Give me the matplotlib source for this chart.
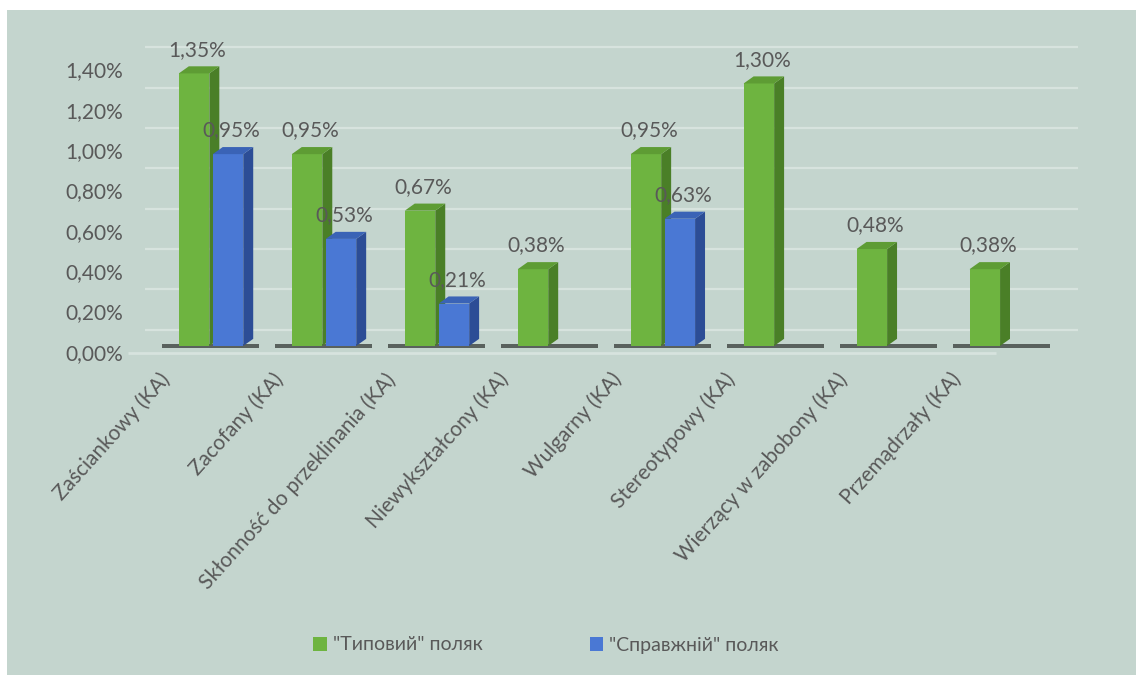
import matplotlib
matplotlib.use('Agg')
import matplotlib.pyplot as plt
from matplotlib.patches import Polygon, Rectangle, Patch
from matplotlib.transforms import ScaledTranslation
import numpy as np

plt.rcParams['font.family'] = ['Lato', 'DejaVu Sans']

# data (percent)
Categories = ['Zaściankowy (KA)', 'Zacofany (KA)', 'Skłonność do przeklinania (KA)',
              'Niewykształcony (KA)', 'Wulgarny (KA)', 'Stereotypowy (KA)',
              'Wierzący w zabobony (KA)', 'Przemądrzały (KA)']
Typowy = [1.35, 0.95, 0.67, 0.38, 0.95, 1.30, 0.48, 0.38]
Prawdziwy = [0.95, 0.53, 0.21, 0, 0.63, 0, 0, 0]
SeriesNames = ['"Типовий" поляк', '"Справжній" поляк']
YTicks = [0.0, 0.2, 0.4, 0.6, 0.8, 1.0, 1.2, 1.4]

TextCol = '#595959'
PanelCol = '#c4d5ce'
GridCol = '#d7e3de'
Green = ('#6eb440', '#4a7f27', '#5e9c34')   # front, side, top
Blue = ('#4a78d4', '#2c4d96', '#3a63b6')

fig = plt.figure(figsize=(11.36, 6.77), dpi=100)
fig.patch.set_facecolor('white')
fig.patches.append(Rectangle((7/1136, 2/677), 1.0, 665/677, transform=fig.transFigure,
                             facecolor=PanelCol, edgecolor='none', zorder=-10))

ax = fig.add_axes([145/1136, 1-356/677, 933/1136, 323/677])
ax.set_facecolor('none')
ax.set_xlim(-0.58, 7.68)
ax.set_ylim(-0.05, 1.55)

BarW = 0.27
Dx, Dy = 0.088, 0.035  # fake 3d depth


def draw_bar(x0, h, cols):
    x1 = x0 + BarW
    ax.bar(x0, h, width=BarW, align='edge', color=cols[0], edgecolor='none', zorder=3)
    ax.add_patch(Polygon([(x1, 0), (x1+Dx, Dy), (x1+Dx, h+Dy), (x1, h)],
                         closed=True, facecolor=cols[1], edgecolor='none', zorder=3))
    ax.add_patch(Polygon([(x0, h), (x0+Dx, h+Dy), (x1+Dx, h+Dy), (x1, h)],
                         closed=True, facecolor=cols[2], edgecolor='none', zorder=3))


def label(x, v):
    ax.annotate(('%.2f%%' % v).replace('.', ','), (x, v), xytext=(0, 17),
                textcoords='offset points', ha='center', va='center',
                fontsize=15, color=TextCol, zorder=5)


Xs = np.arange(len(Categories))
# gridlines sit on the back wall, a bit above the tick labels
for v in YTicks:
    ax.axhline(v + 0.08, color=GridCol, lw=1.6, zorder=0)
ax.hlines(-0.035, -0.73, 6.95, color=GridCol, lw=2, zorder=0, clip_on=False)

for i in Xs:
    # floor shadow
    ax.add_patch(Rectangle((i-0.43, -0.008), 0.86, 0.016, facecolor='#3e4441',
                           edgecolor='none', alpha=0.8, zorder=1))
    draw_bar(i - 0.28, Typowy[i], Green)
    if Prawdziwy[i] > 0:
        draw_bar(i + 0.02, Prawdziwy[i], Blue)

for i in Xs:
    label(i - 0.28 + BarW/2 + 0.03, Typowy[i])
    if Prawdziwy[i] > 0:
        label(i + 0.02 + BarW/2 + 0.03, Prawdziwy[i])

ax.set_yticks(YTicks)
ax.set_yticklabels([('%.2f%%' % v).replace('.', ',') for v in YTicks], fontsize=15, color=TextCol)
ax.set_xticks(Xs)
ax.set_xticklabels(Categories, rotation=48, ha='right', va='center',
                   rotation_mode='anchor', fontsize=15, color=TextCol)
ax.tick_params(length=0, pad=0)
ax.tick_params(axis='y', pad=16)
for t in ax.get_yticklabels():
    t.set_transform(t.get_transform() + ScaledTranslation(0, -0.06, fig.dpi_scale_trans))
for t in ax.get_xticklabels():
    t.set_transform(t.get_transform() + ScaledTranslation(-0.44, -0.20, fig.dpi_scale_trans))
for s in ax.spines.values():
    s.set_visible(False)

Handles = [Patch(facecolor=Green[0], label=SeriesNames[0]),
           Patch(facecolor=Blue[0], label=SeriesNames[1])]
leg = fig.legend(handles=Handles, loc='center', bbox_to_anchor=(546/1136, 1-645/677),
                 ncol=2, frameon=False, fontsize=14, handlelength=0.7, handleheight=0.7,
                 handletextpad=0.3, columnspacing=5.5)
for t in leg.get_texts():
    t.set_color(TextCol)

fig.savefig('out.png', dpi=100)
